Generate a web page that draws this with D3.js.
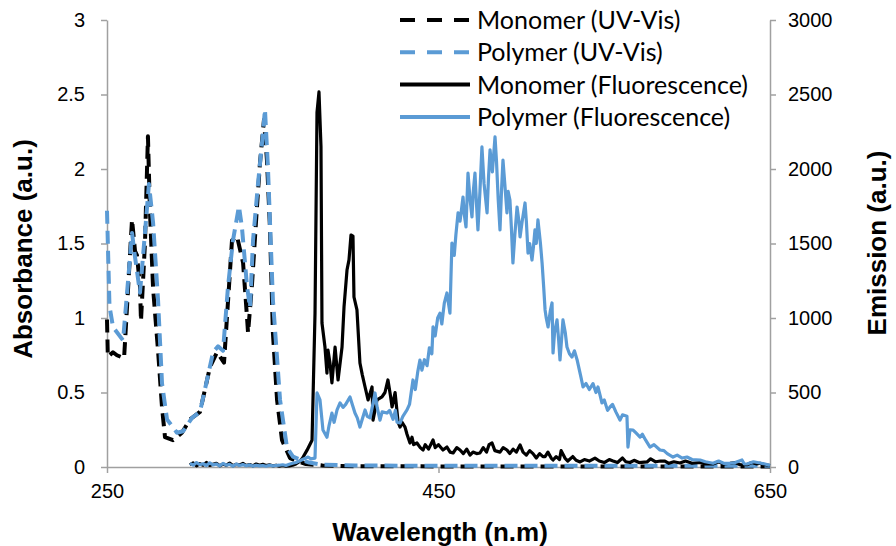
<!DOCTYPE html>
<html><head><meta charset="utf-8">
<script src="https://cdn.jsdelivr.net/npm/d3@7"></script>
<style>body{margin:0;background:#fff}</style>
</head><body>
<svg id="c" width="896" height="546"></svg>
<script>
// ---- data (wavelength nm, value) ----
const monomerUv = [[250,0.99],[250.5,0.74],[253.6,0.77],[256,0.75],[260.3,0.73],[265.1,1.66],[266.9,1.45],[268.1,1.42],[269.9,1.21],[270.5,0.98],[272.9,1.5],[274.7,2.22],[275.9,1.72],[277.8,1.2],[280.8,0.78],[283.2,0.4],[285,0.2],[289.8,0.18],[295.2,0.23],[300.1,0.32],[306.1,0.37],[312.1,0.67],[316.4,0.77],[320.6,0.70],[325.4,1.52],[328.4,1.55],[332.1,1.37],[334.5,1.0],[335.1,0.9],[337.5,1.23],[340.5,1.75],[342.3,2.04],[344.7,2.33],[346.5,2.06],[348.3,1.61],[350.1,0.9],[352.6,0.45],[355.6,0.18],[360.4,0.06],[364.6,0.04],[370,0.02],[380,0.01],[400,0.005],[450,0.004],[500,0.004],[550,0.003],[600,0.003],[650,0.003]];
const polymerUv = [[250,1.72],[251.5,1.08],[253.6,0.94],[259.7,0.85],[265.1,1.57],[266.9,1.41],[269.9,1.17],[272.9,1.57],[275.3,1.9],[277.8,1.64],[280.8,1.12],[283.2,0.56],[286.2,0.32],[292.2,0.23],[295.9,0.24],[301.3,0.33],[306.1,0.37],[314,0.77],[317,0.81],[320,0.78],[323,1.21],[326,1.52],[329.6,1.75],[331.4,1.61],[334.5,1.21],[336.3,1.07],[338.1,1.52],[341.1,1.9],[344.1,2.24],[345.3,2.4],[347.1,2.01],[350.1,1.12],[354.4,0.45],[358.6,0.13],[362.2,0.07],[366.4,0.05],[372,0.03],[380,0.015],[400,0.01],[450,0.008],[500,0.008],[550,0.008],[600,0.008],[650,0.008]];
const monomerFl = [[300,15],[302,28],[304,8],[306,22],[308,12],[310,30],[312,10],[314,18],[316,25],[318,8],[320,20],[322,12],[324,26],[326,9],[328,18],[330,14],[332,24],[334,10],[336,16],[338,8],[340,20],[342,12],[344,18],[346,10],[348,14],[350,8],[352,12],[354,6],[356,10],[358,5],[360,8],[362,12],[364,20],[366,35],[368,60],[370.7,113],[373.7,180],[375.5,1030],[376.7,2380],[377.9,2517],[379.1,2150],[379.7,966],[381.5,805],[382.7,630],[383.3,785],[384.5,700],[385.7,564],[387.6,805],[389.4,584],[391.8,805],[393.0,1074],[394.8,1322],[396.0,1390],[397.2,1557],[398.4,1550],[399.0,1141],[400.8,1054],[402.6,698],[404,620],[405.7,537],[407.5,450],[409.9,537],[410.5,315],[412.9,450],[415.9,470],[417.7,500],[419.5,584],[421,480],[422.0,403],[423.8,500],[425.6,302],[426.8,268],[428,300],[429.8,268],[431,220],[432.8,161],[434,200],[435,150],[437.0,161],[439,130],[440.7,114],[442,150],[444,120],[446.7,181],[448,130],[450,150],[452.7,114],[455.1,134],[457,100],[458.8,94],[461,130],[463.0,114],[465,90],[467,120],[469,80],[470.8,100],[473,90],[475,94],[477,130],[479,100],[480.5,150],[482.3,161],[484,110],[487.1,100],[489,130],[491.3,114],[493,90],[495,120],[497,100],[499.2,148],[501,100],[503,80],[505,110],[507,90],[509,60],[511,90],[513,70],[514.3,70],[516,100],[518,60],[519.1,47],[521,70],[523,50],[524,110],[526.3,60],[528,40],[531,70],[533,45],[535.4,34],[538,50],[541,40],[544.4,60],[547,40],[550,30],[553,50],[555.3,40],[558,30],[561,60],[563,35],[565.5,30],[568,45],[571,30],[575.8,34],[578,55],[581,35],[584,40],[586.6,40],[589,25],[592,35],[595.7,27],[599,40],[603,25],[607.8,30],[611,20],[615.6,20],[619,35],[622,20],[625.9,25],[629,30],[632,15],[636.1,15],[639,30],[642,20],[644,25],[647,15],[650,10]];
const polymerFl = [[300,25],[302,12],[304,30],[306,15],[308,22],[310,10],[312,28],[314,14],[316,20],[318,8],[320,24],[322,12],[324,18],[326,6],[328,20],[330,10],[332,16],[334,8],[336,14],[338,6],[340,12],[342,8],[344,10],[346,5],[348,12],[350,8],[352,10],[354,12],[356,15],[358,10],[360,18],[362,25],[364,30],[366,40],[368,50],[371.3,67],[373,55],[375.5,60],[376.7,497],[378.5,450],[380.3,248],[382.7,200],[384,280],[385.7,362],[387,300],[388.8,383],[390.6,430],[392.4,400],[394,420],[396.6,470],[398,420],[399.6,362],[401,330],[402.6,268],[404,320],[405.7,383],[407,340],[408.7,330],[410,400],[411.7,497],[413,400],[414.7,315],[416,370],[418.9,362],[420.5,380],[422.6,320],[424,380],[425,300],[426.8,295],[428.5,340],[431,383],[432.5,420],[434.6,584],[436,520],[437.5,640],[438.8,718],[440,650],[441.5,720],[443.1,680],[444.5,800],[446,760],[446.7,940],[448,880],[449.5,1000],[450.9,1033],[452,960],[453.5,1100],[455.1,1168],[456,1100],[456.9,1033],[458.1,1503],[459.5,1420],[460.5,1560],[461.8,1705],[463,1650],[464.8,1812],[465.5,1700],[466.6,1611],[467.8,1973],[469,1800],[470.2,1678],[471,1850],[472,1973],[473,1750],[473.8,1591],[475,1850],[476.2,2148],[477.5,1900],[479.3,1705],[480.2,1950],[481.1,2128],[482.5,1980],[484.1,2215],[485,2050],[486,1800],[487.1,1591],[488,1850],[488.9,2060],[490,1900],[491.3,1705],[492,1850],[493.1,1792],[494,1600],[494.9,1369],[496,1550],[497.4,1745],[498.5,1650],[499.2,1544],[500.5,1650],[502.2,1772],[503,1650],[504,1436],[505,1500],[506.4,1389],[507.3,1480],[508.2,1591],[509,1500],[510,1658],[511.5,1500],[512.5,1369],[513.5,1200],[514.3,1054],[515,1000],[516.1,940],[517.5,1050],[518.5,1101],[519.1,765],[520,900],[521.5,987],[522.5,850],[523.3,718],[524.2,850],[525.1,987],[526.5,900],[527.5,805],[529,760],[530.5,738],[532,780],[533.6,720],[535,650],[536,600],[537.2,537],[539,560],[541,520],[543.2,560],[545,500],[546.2,537],[547.5,480],[548.6,430],[550,450],[552,380],[553.5,403],[555,420],[557,370],[559.5,315],[561,350],[563.7,340],[564.3,134],[565.5,250],[567.4,248],[569,230],[571.6,201],[573,220],[575,180],[577.6,134],[580,150],[583.6,114],[586,110],[588,90],[591.5,67],[594,80],[597,60],[599.9,67],[603,50],[607.8,47],[611,35],[615.6,25],[619,40],[622,25],[625.9,25],[629,30],[633.1,47],[634.5,20],[636.1,20],[640,35],[644,27],[647,20],[650,10]];

const xTicks = [250, 450, 650];
const yLeftTicks = [0, 0.5, 1, 1.5, 2, 2.5, 3];
const yRightTicks = [0, 500, 1000, 1500, 2000, 2500, 3000];
const seriesNames = ["Monomer (UV-Vis)", "Polymer (UV-Vis)", "Monomer (Fluorescence)", "Polymer (Fluorescence)"];

// ---- layout ----
const svg = d3.select("#c");
const L = 107, R = 770, T = 20, B = 467;
const BLUE = "#5B9BD5", AXIS = "#A0A0A0";
const x = d3.scaleLinear().domain([250, 650]).range([L, R]);
const yL = d3.scaleLinear().domain([0, 3]).range([B, T]);
const yR = d3.scaleLinear().domain([0, 3000]).range([B, T]);
const ARIAL = "'Liberation Sans', Arial, Helvetica, sans-serif";

function styleAxis(g) {
  g.selectAll(".domain").attr("stroke", AXIS).attr("stroke-width", 1.5);
  g.selectAll(".tick line").attr("stroke", AXIS).attr("stroke-width", 1.5);
  g.selectAll(".tick text").attr("fill", "#000").style("font-family", ARIAL).style("font-size", "20px");
}
svg.append("g").attr("transform", `translate(0,${B})`)
  .call(d3.axisBottom(x).tickValues(xTicks).tickSize(6).tickSizeOuter(0).tickPadding(11).tickFormat(d3.format("d")))
  .call(styleAxis);
svg.append("g").attr("transform", `translate(${L},0)`)
  .call(d3.axisLeft(yL).tickValues(yLeftTicks).tickSize(6).tickSizeOuter(0).tickPadding(16).tickFormat(d => String(d)))
  .call(styleAxis);
svg.append("g").attr("transform", `translate(${R},0)`)
  .call(d3.axisRight(yR).tickValues(yRightTicks).tickSize(6).tickSizeOuter(0).tickPadding(12).tickFormat(d => String(d)))
  .call(styleAxis);

// ---- lines ----
const lineL = d3.line().x(d => x(d[0])).y(d => yL(d[1]));
const lineR = d3.line().x(d => x(d[0])).y(d => yR(d[1]));
const series = [
  {data: monomerUv, gen: lineL, color: "#000", dash: "13,7"},
  {data: polymerUv, gen: lineL, color: BLUE, dash: "13,7"},
  {data: monomerFl, gen: lineR, color: "#000", dash: null},
  {data: polymerFl, gen: lineR, color: BLUE, dash: null}
];
series.forEach(s => {
  svg.append("path").datum(s.data).attr("d", s.gen)
    .attr("fill", "none").attr("stroke", s.color)
    .attr("stroke-width", s.dash ? 4 : 3.2)
    .attr("stroke-linejoin", "round")
    .attr("stroke-dasharray", s.dash);
});

// ---- legend ----
const leg = svg.append("g");
const legTexts = [];
seriesNames.forEach((name, i) => {
  const yy = 20 + i * 32.3;
  leg.append("line").attr("x1", 400).attr("x2", 470).attr("y1", yy).attr("y2", yy)
    .attr("stroke", series[i].color).attr("stroke-width", 4)
    .attr("stroke-dasharray", series[i].dash ? "15,12" : null);
  legTexts.push(leg.append("text").attr("x", 477).attr("y", yy + 9)
    .style("font-family", "Lato, 'Open Sans', sans-serif").style("font-size", "20px").text(name));
});
// size legend font so the longest entry spans the same width as in the reference
const w20 = legTexts[2].node().getComputedTextLength();
const legSize = 20 * 271 / w20;
legTexts.forEach(t => t.style("font-size", legSize + "px"));

// ---- axis titles ----
function title(sel) {
  return sel.attr("text-anchor", "middle").style("font-family", ARIAL)
    .style("font-weight", "bold").style("font-size", "26px");
}
title(svg.append("text").attr("transform", `translate(32,249) rotate(-90)`)).text("Absorbance (a.u.)");
title(svg.append("text").attr("transform", `translate(886,243) rotate(-90)`)).text("Emission (a.u.)");
title(svg.append("text").attr("x", 440).attr("y", 541)).text("Wavelength (n.m)");
</script>
</body></html>
